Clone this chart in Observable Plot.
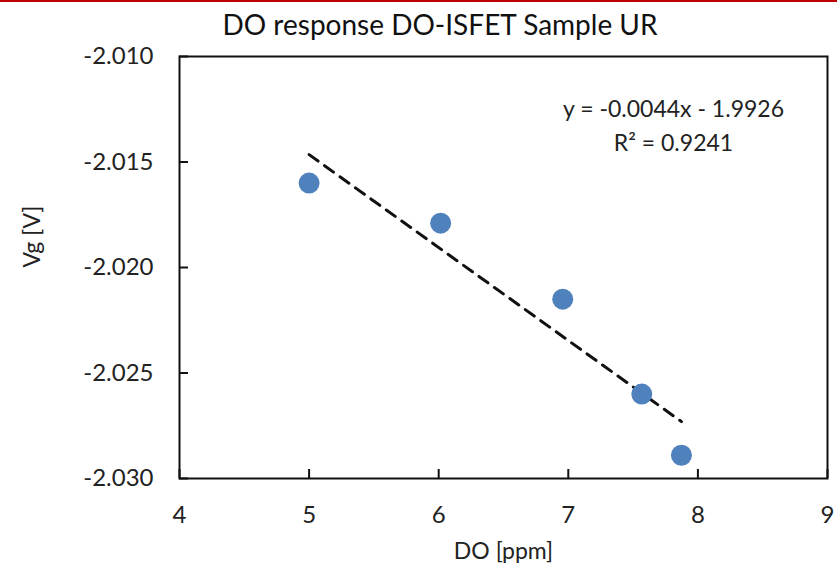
<!DOCTYPE html>
<html>
<head>
<meta charset="utf-8">
<script src="https://cdn.jsdelivr.net/npm/d3@7"></script>
<script src="https://cdn.jsdelivr.net/npm/@observablehq/plot@0.6"></script>
<style>
  body { margin: 0; background: #fff; overflow: hidden; }
  #wrap { width: 837px; height: 569px; position: relative; border-top: 2px solid #c00000; box-sizing: border-box; overflow: hidden; }
  #title { width: 880px; height: 42px; line-height: 44px; text-align: center; font-family: Lato, sans-serif; font-size: 28px; color: #111; white-space: nowrap; }
  svg { overflow: visible; }
</style>
</head>
<body>
<div id="wrap">
  <div id="title">DO response DO-ISFET Sample UR</div>
  <div id="chart"></div>
</div>
<script>
const doPpm = [5.00, 6.015, 6.957, 7.567, 7.873];
const vg = [-2.0160, -2.0179, -2.0215, -2.0260, -2.0289];
const xTicks = [4, 5, 6, 7, 8, 9];
const yTicks = [-2.010, -2.015, -2.020, -2.025, -2.030];
const equationLines = ["y = -0.0044x - 1.9926", "R² = 0.9241"];
const xLabel = "DO [ppm]";
const yLabel = "Vg [V]";

const data = doPpm.map((x, i) => ({x, y: vg[i]}));

const plot = Plot.plot({
  width: 837,
  height: 525,
  marginTop: 12,
  marginLeft: 179,
  marginRight: 10,
  marginBottom: 91,
  style: {fontFamily: "Lato, sans-serif", fontSize: "24px", color: "#222", background: "white"},
  x: {domain: [4, 9]},
  y: {domain: [-2.030, -2.010]},
  marks: [
    Plot.frame({stroke: "#111", strokeWidth: 2}),
    Plot.axisX({ticks: xTicks, tickSize: 9, dy: -9, tickPadding: 27, tickFormat: d => String(d), label: null, stroke: "#111", strokeWidth: 2, fontSize: 24}),
    Plot.axisY({ticks: yTicks, tickSize: 9, dx: 9, tickPadding: 26, tickFormat: d => d.toFixed(3), label: null, stroke: "#111", strokeWidth: 2, fontSize: 24}),
    Plot.linearRegressionY(data, {x: "x", y: "y", ci: 0, stroke: "#111", strokeWidth: 3, strokeDasharray: "11,8"}),
    Plot.dot(data, {x: "x", y: "y", r: 10.5, fill: "#4f81bd", stroke: "none"}),
    Plot.text([yLabel], {frameAnchor: "left", rotate: -90, dx: -147, fontSize: 23}),
    Plot.text([xLabel], {frameAnchor: "bottom", dy: 80, fontSize: 23}),
    Plot.text([equationLines.join("\n")], {frameAnchor: "top", dx: 170, dy: 37, fontSize: 23, lineHeight: 1.45, lineAnchor: "top"})
  ]
});
document.getElementById("chart").appendChild(plot);
</script>
</body>
</html>
